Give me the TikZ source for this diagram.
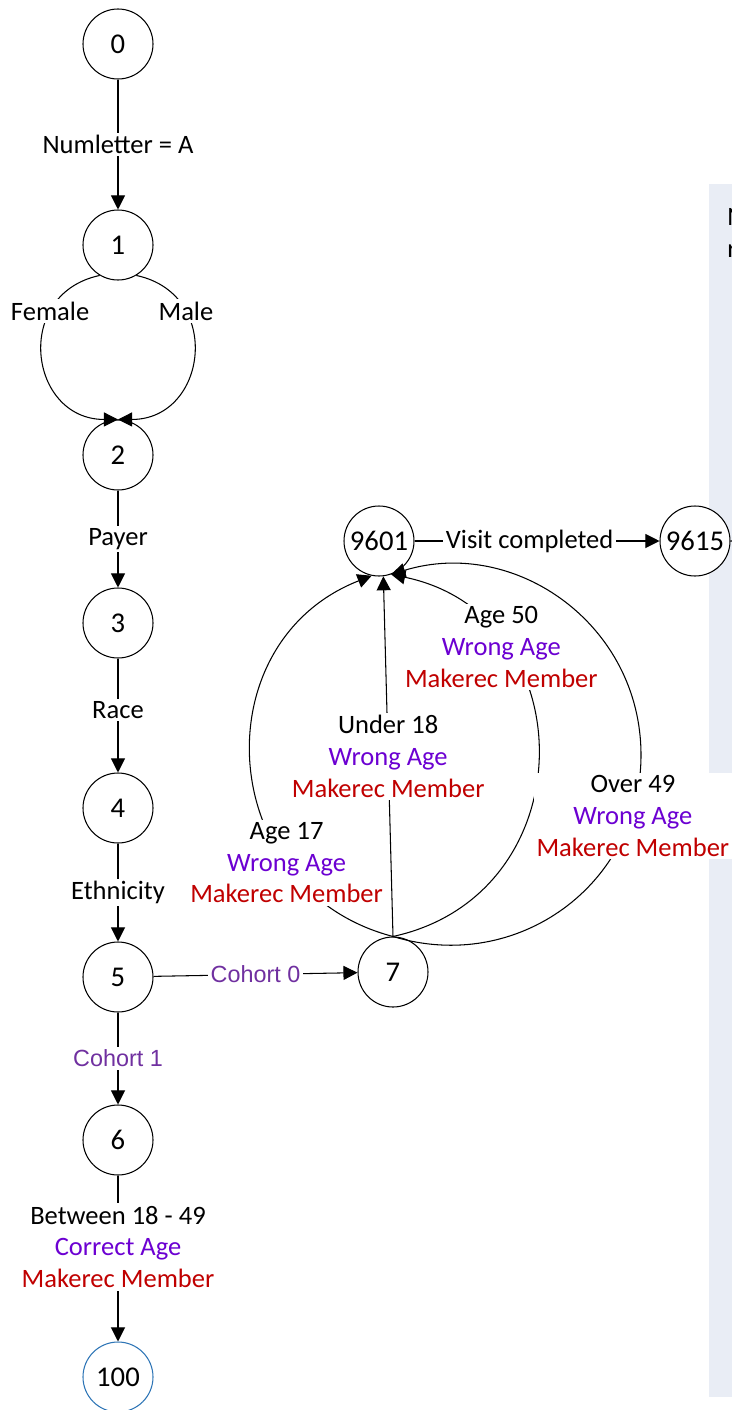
\documentclass[tikz,border=0pt]{standalone}
\usepackage{fontspec}
\setmainfont{Carlito}
\newfontfamily\arialfont{Liberation Sans}
\usetikzlibrary{arrows.meta}

\definecolor{agecol}{RGB}{108,0,210}
\definecolor{memcol}{RGB}{192,0,0}
\definecolor{cohortcol}{RGB}{112,48,160}
\definecolor{endcol}{RGB}{46,117,182}
\definecolor{panelcol}{RGB}{233,237,245}

\newcommand{\lblsize}{\fontsize{15.1}{18.1}\selectfont}
\newcommand{\numsize}{\fontsize{16.3}{19}\selectfont}
\newcommand{\wrongage}{\textcolor{agecol}{Wrong Age}}
\newcommand{\mkmember}{\textcolor{memcol}{Makerec Member}}

\begin{document}
\begin{tikzpicture}[
                > = {Triangle[length=8pt, width=8pt]}, % arrow head style
                semithick % line style
            ]

            \tikzstyle{vertex}=[draw = black, circle, fill = white, inner sep = 1pt,
            minimum size = 1.4cm, font = \numsize]
            \tikzstyle{lbl}=[fill = white, inner sep = 1.5pt, align = center, font = \lblsize]
            \tikzstyle{cohort}=[lbl, font = \arialfont\fontsize{13.3}{16}\selectfont, text = cohortcol]

            \useasboundingbox (0,0) rectangle (14.64,-28.2);
            \fill[panelcol] (14.18,-3.68) rectangle (14.8,-27.94);
            \node[anchor = west, align = left, font = \lblsize] (note) at (14.42,-4.66) {N\\r};

            \node[vertex] (n0) at (2.36,-0.88) {0};
            \node[vertex] (n1) [node distance = 4.02cm, below of=n0] {1};
            \node[vertex] (n2) [node distance = 4.2cm, below of=n1] {2};
            \node[vertex] (n3) [node distance = 3.36cm, below of=n2] {3};
            \node[vertex] (n4) [node distance = 3.7cm, below of=n3] {4};
            \node[vertex] (n5) [node distance = 3.38cm, below of=n4] {5};
            \node[vertex] (n6) [node distance = 3.26cm, below of=n5] {6};
            \node[vertex, draw = endcol] (n100) [node distance = 4.74cm, below of=n6] {100};
            \node[vertex] (n7) [node distance = 5.5cm, right of=n5, yshift = 0.1cm] {7};
            \node[vertex] (n9601) [node distance = 8.62cm, above of=n7, xshift = -0.28cm] {9601};
            \node[vertex] (n9615) [node distance = 6.32cm, right of=n9601] {9615};
            \coordinate (o49) at (12.82,-15.1);
            \coordinate (stub) at (14.7,-10.82);

            \path[->] (n0) edge node[lbl] {Numletter = A} (n1);
            \draw[->] (n1.239) to[out = 192, in = 180, looseness = 1.57]
                node[lbl, pos = 0.28] {Female} (n2.north);
            \draw[->] (n1.301) to[out = -12, in = 0, looseness = 1.57]
                node[lbl, pos = 0.28] {Male} (n2.north);
            \path[->] (n2) edge node[lbl] {Payer} (n3);
            \path[->] (n3) edge node[lbl, pos = 0.45] {Race} (n4);
            \path[->] (n4) edge node[lbl] {Ethnicity} (n5);
            \path[->] (n5) edge node[cohort] {Cohort 1} (n6);
            \path[->] (n6) edge node[lbl, pos = 0.43]
                {Between 18 - 49\\\textcolor{agecol}{Correct Age}\\\mkmember} (n100);
            \path[->] (n5) edge node[cohort] {Cohort 0} (n7);

            % loops back from 7 to 9601
            \path[->] (n7.north) edge node[lbl] {Under 18\\\wrongage\\\mkmember} (n9601.277);
            \draw[->] (n7.north) to[bend left = 72, looseness = 1.3]
                node[lbl, pos = 0.28, xshift = 0.08cm, yshift = -0.08cm] {Age 17\\\wrongage\\\mkmember} (n9601.258);
            \draw[->] (n7.north) to[bend right = 78, looseness = 1.4]
                node[lbl, pos = 0.73, xshift = -0.1cm, yshift = 0.06cm] {Age 50\\\wrongage\\\mkmember} (n9601.290);
            \draw[->] (n7.north) to[out = -17, in = -90, looseness = 1.08]
                node[lbl, pos = 0.83, xshift = 0.04cm, yshift = 0.02cm] {Over 49\\\wrongage\\\mkmember} (o49)
                to[out = 90, in = 17, looseness = 1.08] (n9601.290);

            \path[->] (n9601) edge node[lbl, pos = 0.47] {Visit completed} (n9615);
            \draw (n9615) -- (stub);

        \end{tikzpicture}
\end{document}
